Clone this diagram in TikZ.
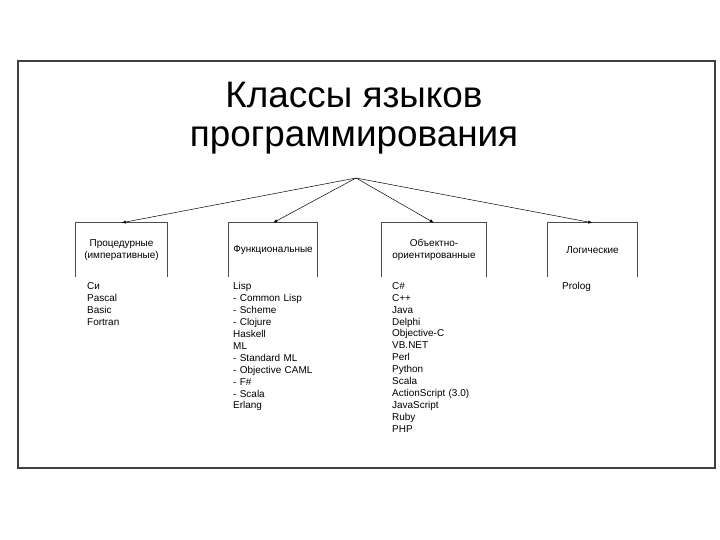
\documentclass[tikz,border=0pt]{standalone}
\usepackage{fontspec}
\setmainfont{Liberation Sans}
\begin{document}
\begin{tikzpicture}[x=1bp,y=-1bp,font=\fontsize{10}{12}\selectfont,
  framebox/.style={draw=black!75,line width=1.3bp},
  catbox/.style={minimum width=#1,minimum height=54bp,inner sep=0pt,align=center},
  boxline/.style={draw=black!70,line width=1.3bp},
  tree/.style={-latex,black,line width=.5bp},
  langlist/.style={anchor=north west,text width=110bp,align=left,inner sep=0pt}]
\newcommand{\catframe}[1]{\draw[boxline] (#1.south west)--(#1.north west)--(#1.north east)--(#1.south east);}
\useasboundingbox (0,0) rectangle (720,540);
\draw[framebox] (18,61) rectangle (715,468);
\node[font=\fontsize{37}{39}\selectfont,align=center,inner sep=0pt] (title) at (354,118) {Классы языков\\программирования};
\coordinate (top) at (356,178);
\node[catbox=91bp] (proc) at (121.5,250) {Процедурные\\(императивные)};
\node[catbox=88bp] (func) at (273,250) {Функциональные};
\node[catbox=104bp] (oop) at (434,250) {Объектно-\\ориентированные};
\node[catbox=89bp] (logic) at (592.5,250) {Логические};
\foreach \n in {proc,func,oop,logic}{\catframe{\n}\draw[tree] (top) -- (\n.north);}
\node[langlist] (proclist) at (87,282) {Си\\Pascal\\Basic\\Fortran};
\node[langlist] (funclist) at (233,282) {Lisp\\- Common Lisp\\- Scheme\\- Clojure\\Haskell\\ML\\- Standard ML\\- Objective CAML\\- F\#\\- Scala\\Erlang};
\node[langlist] (ooplist) at (392,282) {C\#\\C++\\Java\\Delphi\\Objective-C\\VB.NET\\Perl\\Python\\Scala\\ActionScript (3.0)\\JavaScript\\Ruby\\PHP};
\node[langlist] (logiclist) at (562,282) {Prolog};
\end{tikzpicture}
\end{document}
